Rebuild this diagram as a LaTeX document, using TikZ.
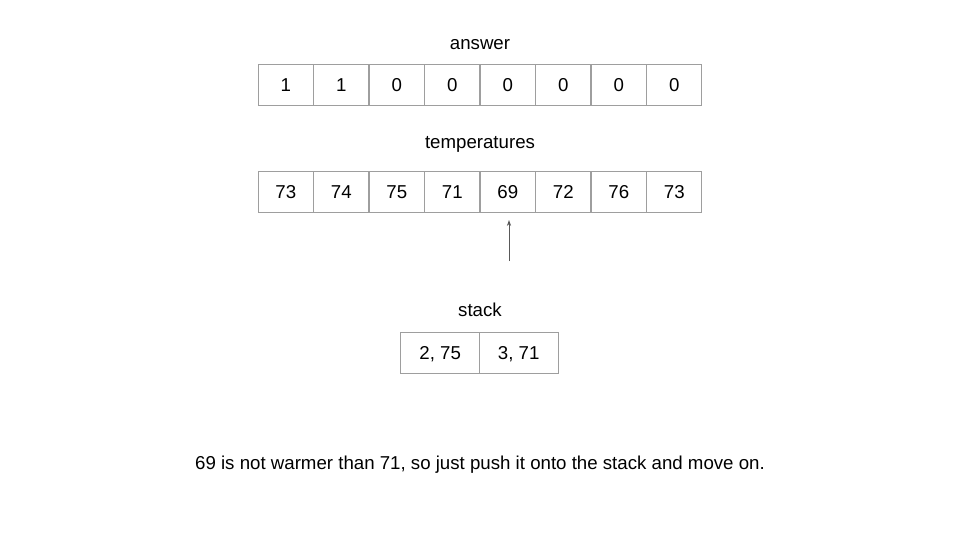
\documentclass[tikz,border=0pt]{standalone}
\usepackage{fontspec}
\setmainfont{Liberation Sans}
\usetikzlibrary{arrows.meta}
\definecolor{cellgray}{HTML}{9E9E9E}
\definecolor{arrowgray}{HTML}{595959}

\begin{document}
\begin{tikzpicture}[x=0.75pt,y=-0.75pt,
			cell node/.style={draw=cellgray,line width=0.75pt,minimum width=41.6pt,minimum height=30.75pt,inner sep=0pt,outer sep=0pt,text height=10pt,text depth=0pt,font=\fontsize{14}{17}\selectfont},
			stack node/.style={cell node,minimum width=58.9pt},
			label node/.style={font=\fontsize{14}{17}\selectfont}
			]
			\useasboundingbox (0,0) rectangle (960,540);
			
			\def \w {55.5};
			\def \x {258};
			
			\node[label node] at (480,45) (answer) {answer};
			\foreach \v [count=\s] in {1,1,0,0,0,0,0,0} {
				\node[cell node] at ({\x+\w*(\s-0.5)},84.5) (a\s) {\v};
			}
			
			\node[label node] at (480,144) (temps) {temperatures};
			\foreach \v [count=\s] in {73,74,75,71,69,72,76,73} {
				\node[cell node] at ({\x+\w*(\s-0.5)},191.5) (t\s) {\v};
			}
			
			\coordinate (ptr) at (509,261);
			\coordinate (ptr top) at (509,220);
			\draw[-{Stealth[length=4.5pt,width=3.2pt]},arrowgray,line width=0.75pt] (ptr) -- (ptr top);
			
			\node[label node] at (480,310) (stack) {stack};
			\node[stack node] at (440.25,352.5) (s1) {2, 75};
			\node[stack node] at (518.75,352.5) (s2) {3, 71};
			
			\node[label node] at (480,465) (note) {69 is not warmer than 71, so just push it onto the stack and move on.};
\end{tikzpicture}
\end{document}
